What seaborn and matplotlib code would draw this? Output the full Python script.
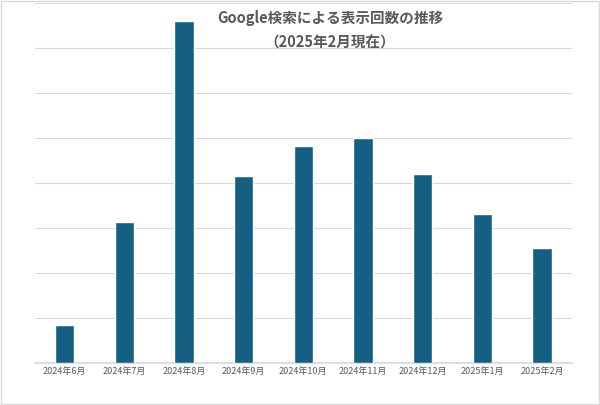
import matplotlib
matplotlib.use("Agg")
import matplotlib.pyplot as plt
import seaborn as sns
import pandas as pd

months = ["2024年6月", "2024年7月", "2024年8月", "2024年9月", "2024年10月",
          "2024年11月", "2024年12月", "2025年1月", "2025年2月"]
values = [0.84, 3.13, 7.6, 4.16, 4.82, 5.0, 4.2, 3.31, 2.56]

sns.set_theme(style="white")
plt.rcParams['font.family'] = ['Noto Sans CJK JP', 'DejaVu Sans']

df = pd.DataFrame({"month": months, "value": values})
fig = plt.figure(figsize=(6, 4.05), dpi=100)
ax = fig.add_axes([0.058, 0.104, 0.895, 0.888])
sns.barplot(data=df, x="month", y="value", color="#156082", saturation=1, width=0.32, ax=ax, zorder=3)
ax.set_ylim(0, 8)
ax.set_yticks(range(0, 9))
ax.set_yticklabels([])
ax.tick_params(axis="y", length=0)
ax.tick_params(axis="x", length=0, labelsize=6.5, labelcolor="#595959", pad=3)
ax.grid(axis="y", color="#d9d9d9", linewidth=0.8, zorder=0)
for s in ["top", "left", "right"]:
    ax.spines[s].set_visible(False)
ax.spines["bottom"].set_color("#d9d9d9")
ax.set_xlabel("")
ax.set_ylabel("")
fig.text(0.55, 0.925, "Google検索による表示回数の推移\n（2025年2月現在）", ha="center", va="center",
         fontsize=10.5, color="#595959", linespacing=1.6, fontweight="bold")
fig.patches.append(plt.Rectangle((0.002, 0.002), 0.996, 0.996, transform=fig.transFigure,
                                 fill=False, edgecolor="#d9d9d9", linewidth=1))
fig.savefig("out.png", dpi=100)
